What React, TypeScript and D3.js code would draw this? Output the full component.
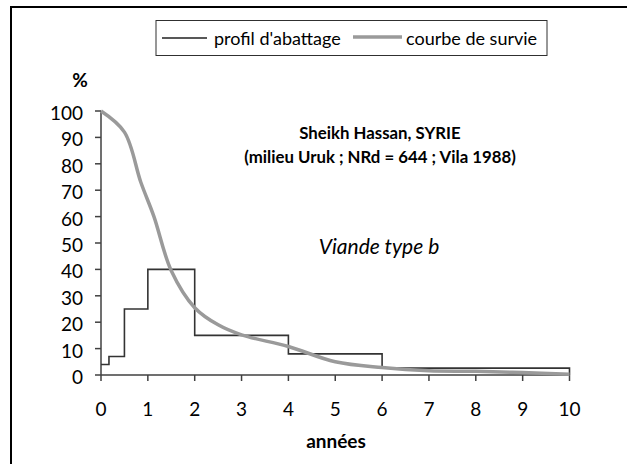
import React from "react";
import * as d3 from "d3";

// profil d'abattage (step), bornes des classes d'age en annees
const ageBreaks = [0, 0.17, 0.5, 1, 2, 4, 6, 10];
const killPct = [4, 7, 25, 40, 15, 8, 2.6];

// courbe de survie
const survAges = [0, 0.5, 0.85, 1.13, 1.5, 2, 2.5, 3, 4, 5, 6, 7, 8, 9, 10];
const survPct = [100, 92, 73, 60, 39.5, 25.5, 19, 15.2, 10.8, 5, 2.8, 1.6, 1.4, 0.9, 0.3];

const xTicks = [0, 1, 2, 3, 4, 5, 6, 7, 8, 9, 10];
const yTicks = [0, 10, 20, 30, 40, 50, 60, 70, 80, 90, 100];

const FONT = "Lato, 'Open Sans', sans-serif";
const AXIS = "#404040";
const GRAY = "#9a9a9a";

export default function App() {
  const x = d3.scaleLinear().domain([0, 10]).range([101, 569.5]);
  const y = d3.scaleLinear().domain([0, 100]).range([375, 111]);

  // step points: each class value held until next break, then drop to 0
  const stepPts: [number, number][] = killPct.map((v, i) => [ageBreaks[i], v]);
  stepPts.push([ageBreaks[ageBreaks.length - 1], killPct[killPct.length - 1]]);
  stepPts.push([ageBreaks[ageBreaks.length - 1], 0]);
  const stepLine = d3
    .line<[number, number]>()
    .x((d) => x(d[0]))
    .y((d) => y(d[1]))
    .curve(d3.curveStepAfter);

  const survLine = d3
    .line<number>()
    .x((d, i) => x(survAges[i]))
    .y((d) => y(d))
    .curve(d3.curveCatmullRom.alpha(0.5));

  return (
    <svg
      width={627}
      height={464}
      style={{ position: "absolute", left: 0, top: 0, background: "#fff" }}
      fontFamily={FONT}
    >
      <rect x={11} y={7} width={700} height={500} fill="#fff" stroke="#000" strokeWidth={2} />

      {/* legend */}
      <rect x={156} y={20.5} width={391} height={35} fill="#fff" stroke="#303030" strokeWidth={1} />
      <line x1={162} x2={207} y1={38} y2={38} stroke="#202020" strokeWidth={1.5} />
      <text x={214} y={45} fontSize={18} fill="#000">profil d'abattage</text>
      <line x1={353} x2={402} y1={37} y2={37} stroke={GRAY} strokeWidth={3.5} />
      <text x={406} y={45} fontSize={18} fill="#000">courbe de survie</text>

      <text x={80} y={87} fontSize={19} fontWeight="bold" textAnchor="middle">%</text>

      {/* axes */}
      <line x1={x(0)} x2={x(0)} y1={y(100)} y2={y(0)} stroke={AXIS} strokeWidth={1.5} />
      {yTicks.map((t) => (
        <g key={"y" + t}>
          <line x1={x(0) - 6} x2={x(0)} y1={y(t)} y2={y(t)} stroke={AXIS} strokeWidth={1.5} />
          <text x={83} y={y(t) + 9} fontSize={19} textAnchor="end">{t}</text>
        </g>
      ))}
      <line x1={x(0)} x2={x(10)} y1={y(0)} y2={y(0)} stroke={AXIS} strokeWidth={1.5} />
      {xTicks.map((t) => (
        <g key={"x" + t}>
          <line x1={x(t)} x2={x(t)} y1={y(0)} y2={y(0) + 6} stroke={AXIS} strokeWidth={1.5} />
          <text x={x(t)} y={416} fontSize={19} textAnchor="middle">{t}</text>
        </g>
      ))}
      <text x={336} y={448} fontSize={19} fontWeight="bold" textAnchor="middle">années</text>

      {/* series */}
      <path d={stepLine(stepPts) || ""} fill="none" stroke="#333" strokeWidth={1.6} />
      <path d={survLine(survPct) || ""} fill="none" stroke={GRAY} strokeWidth={3.5} />

      {/* annotations */}
      <text x={380} y={139} fontSize={16.8} fontWeight="bold" textAnchor="middle">Sheikh Hassan, SYRIE</text>
      <text x={380} y={163} fontSize={16.8} fontWeight="bold" textAnchor="middle">(milieu Uruk ; NRd = 644 ; Vila 1988)</text>
      <text x={379} y={254} fontSize={21} fontStyle="italic" textAnchor="middle">Viande type b</text>
    </svg>
  );
}
